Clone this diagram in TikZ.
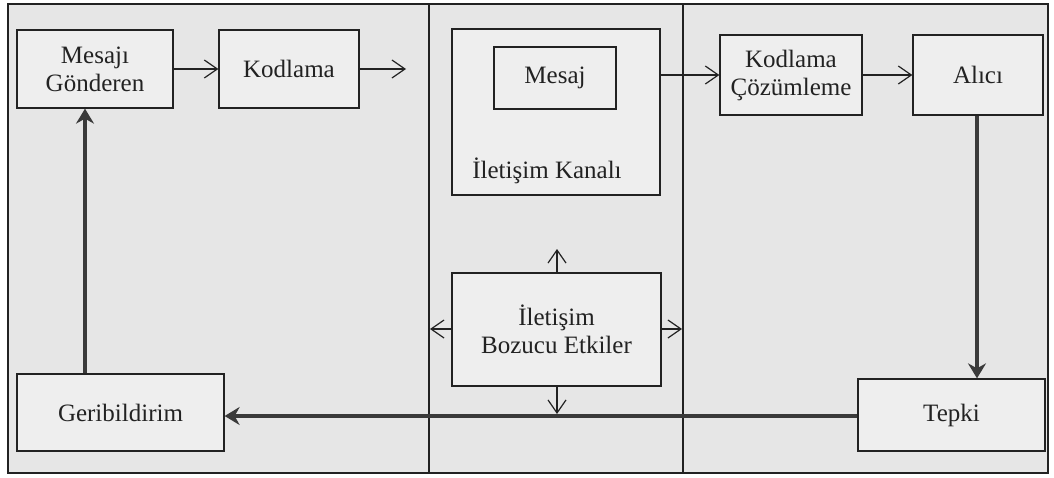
\documentclass[tikz,border=0pt]{standalone}
\usepackage{fontspec}
\setmainfont{Liberation Serif}
\usetikzlibrary{arrows.meta}
\definecolor{panel}{HTML}{E6E6E6}
\definecolor{boxfill}{HTML}{EEEEEE}
\definecolor{ink}{HTML}{222222}
\definecolor{heavy}{HTML}{3A3A3A}
\tikzset{
  lbl/.style={font=\fontsize{25}{28}\selectfont, text=ink},
  blk/.style={lbl, draw=ink, line width=1.3pt, fill=boxfill, inner sep=0pt, align=center},
  thin/.style={draw=ink, line width=1.2pt, -{Straight Barb[length=13pt,width=18pt,line width=1.2pt]}},
  thick/.style={draw=heavy, line width=4.5pt, -{Stealth[length=15pt,width=18pt,inset=5pt]}},
  divider/.style={draw=ink, line width=1.2pt}
}
\begin{document}
\begin{tikzpicture}[x=1pt,y=-1pt]
\useasboundingbox (0,0) rectangle (1054,477);
% panel and column dividers
\fill[white] (0,0) rectangle (1054,477);
\draw[ink, line width=1.5pt, fill=panel] (8,4) rectangle (1048,473);
\draw[divider] (429,4) -- (429,473);
\draw[divider] (683,4) -- (683,473);

% blocks
\node[blk, minimum width=156pt, minimum height=78pt] (gon) at (95,69) {Mesajı\\Gönderen};
\node[blk, minimum width=140pt, minimum height=78pt] (kod) at (289,69) {Kodlama};
\node[blk, minimum width=208pt, minimum height=166pt] (kanal) at (556,112) {};
\node[blk, minimum width=122pt, minimum height=62pt] (mesaj) at (555,78) {Mesaj};
\node[lbl, anchor=base] (kanaltxt) at (547,178) {İletişim Kanalı};
\node[blk, minimum width=142pt, minimum height=80pt] (coz) at (791,75) {Kodlama\\Çözümleme};
\node[blk, minimum width=130pt, minimum height=80pt] (alici) at (978,75) {Alıcı};
\node[blk, minimum width=209pt, minimum height=113pt] (boz) at (556.5,329.5) {İletişim\\Bozucu Etkiler};
\node[blk, minimum width=207pt, minimum height=77pt] (geri) at (120.5,412.5) {Geribildirim};
\node[blk, minimum width=187pt, minimum height=72pt] (tepki) at (951.5,415) {Tepki};

% free ends
\coordinate (kodout) at (406,69);
\coordinate (up) at (557,249);
\coordinate (left) at (430,329);
\coordinate (right) at (682,329);
\coordinate (down) at (557,414);

% flow arrows
\draw[thin] (gon.east |- 0,69) -- (kod.west |- 0,69);
\draw[thin] (kod.east |- 0,69) -- (kodout);
\draw[thin] (kanal.east |- 0,75) -- (coz.west |- 0,75);
\draw[thin] (coz.east |- 0,75) -- (alici.west |- 0,75);

% feedback loop
\draw[thick] (alici.south -| 977,0) -- (tepki.north -| 977,0);
\draw[thick] (tepki.west |- 0,416) -- (geri.east |- 0,416);
\draw[thick] (geri.north -| 85,0) -- (gon.south -| 85,0);

% noise arrows
\draw[thin] (boz.north -| 557,0) -- (up);
\draw[thin] (boz.west |- 0,329) -- (left);
\draw[thin] (boz.east |- 0,329) -- (right);
\draw[thin] (boz.south -| 557,0) -- (down);
\end{tikzpicture}
\end{document}
